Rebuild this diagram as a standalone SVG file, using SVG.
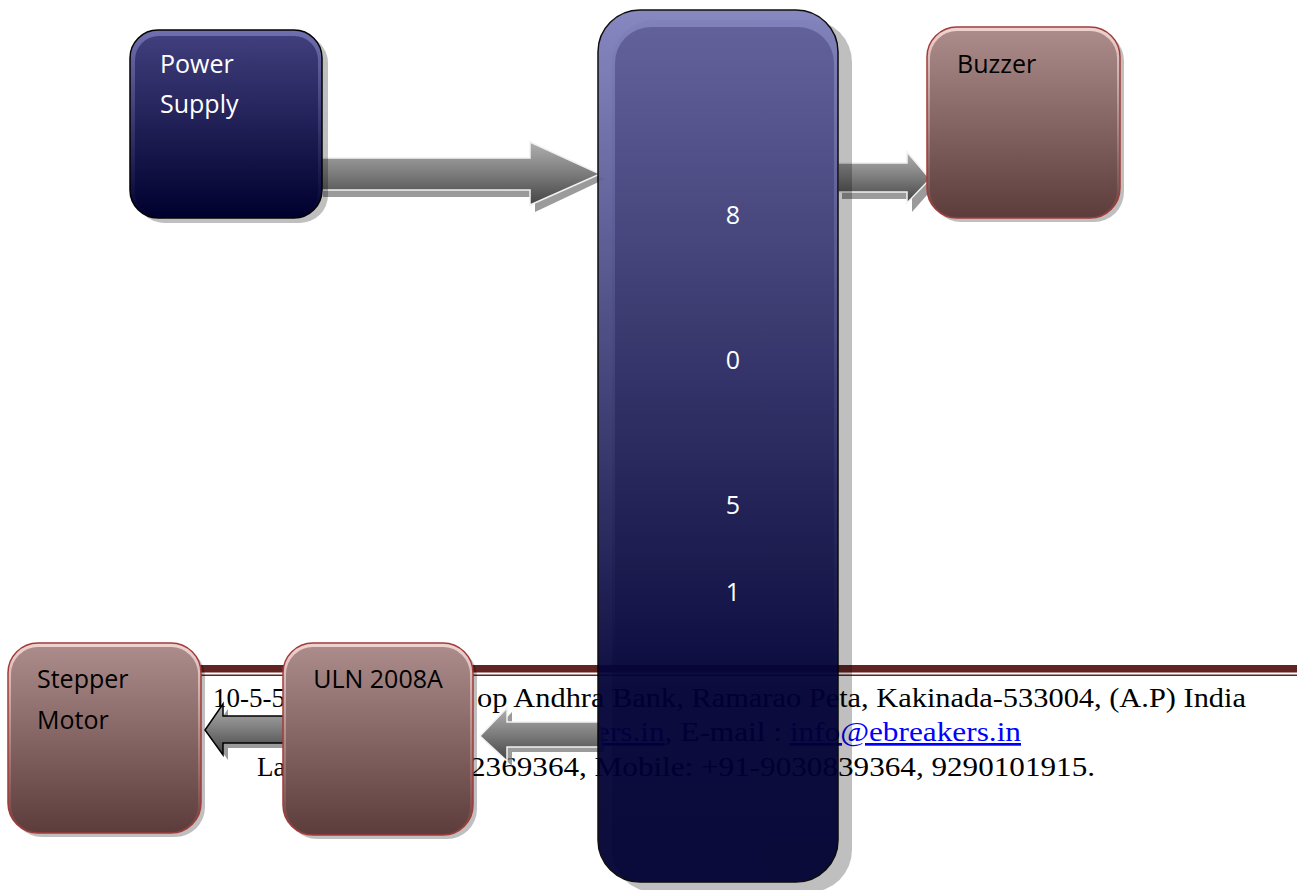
<svg xmlns="http://www.w3.org/2000/svg" width="1297" height="890" viewBox="0 0 1297 890">
  <defs>
    <style>
      .lbl { font-family: "Open Sans", "Liberation Sans", sans-serif; font-size: 25px; }
      .lbl-w { fill: #ffffff; }
      .lbl-k { fill: #000000; }
      .foot { font-family: "Liberation Serif", "DejaVu Serif", serif; font-size: 27px; fill: #000000; }
      .link { fill: #0000ff; text-decoration: underline; }
      .shadow { fill: #000000; opacity: 0.25; }
      .blue-edge { stroke: #000000; stroke-width: 1.5; }
      .red-edge { stroke: #a03c3a; stroke-width: 1.5; }
      .arrow { fill: url(#arrowFill); stroke: #f2f2f2; stroke-width: 1.5; stroke-linejoin: miter; }
      .arrow-dark { fill: url(#arrowFill); stroke: #000000; stroke-width: 1.5; stroke-linejoin: miter; }
      .arrow-shadow { fill: #7a7a7a; opacity: 0.75; }
    </style>
    <!-- glossy navy boxes -->
    <linearGradient id="navyRimSmall" x1="0" y1="0" x2="0" y2="1">
      <stop offset="0" stop-color="#7070b0"/>
      <stop offset="1" stop-color="#000030"/>
    </linearGradient>
    <linearGradient id="navyFillSmall" x1="0" y1="0" x2="0" y2="1">
      <stop offset="0" stop-color="#403e7c"/>
      <stop offset="1" stop-color="#00002e"/>
    </linearGradient>
    <linearGradient id="navyRimTall" x1="0" y1="0" x2="0" y2="1">
      <stop offset="0" stop-color="#8081bd"/>
      <stop offset="0.78" stop-color="#000036"/>
      <stop offset="1" stop-color="#000032"/>
    </linearGradient>
    <linearGradient id="navyFillTall" x1="0" y1="0" x2="0" y2="1">
      <stop offset="0" stop-color="#5e5c98"/>
      <stop offset="0.78" stop-color="#000036"/>
      <stop offset="1" stop-color="#000032"/>
    </linearGradient>
    <!-- glossy maroon boxes -->
    <linearGradient id="maroonRim" x1="0" y1="0" x2="0" y2="1">
      <stop offset="0" stop-color="#f0d4d2"/>
      <stop offset="1" stop-color="#6a3f3d"/>
    </linearGradient>
    <linearGradient id="maroonFill" x1="0" y1="0" x2="0" y2="1">
      <stop offset="0" stop-color="#ac8c8a"/>
      <stop offset="1" stop-color="#5d3d3b"/>
    </linearGradient>
    <!-- block arrows -->
    <linearGradient id="arrowFill" x1="0" y1="0" x2="0" y2="1">
      <stop offset="0" stop-color="#b0b0b0"/>
      <stop offset="0.5" stop-color="#7c7c7c"/>
      <stop offset="1" stop-color="#444444"/>
    </linearGradient>
  </defs>

  <rect width="1297" height="890" fill="#ffffff"/>

  <!-- page footer: double rule and address lines -->
  <g id="footer">
    <rect x="190" y="665" width="1107" height="7.5" fill="#622423"/>
    <rect x="190" y="674.5" width="1107" height="1.5" fill="#622423"/>
    <text class="foot" x="213" y="707">10-5-5</text>
    <text class="foot" x="477" y="707" textLength="769" lengthAdjust="spacingAndGlyphs">op Andhra Bank, Ramarao Peta, Kakinada-533004, (A.P) India</text>
    <text class="foot" x="596" y="741" textLength="425" lengthAdjust="spacingAndGlyphs"><tspan class="link">ers.in</tspan>, E-mail : <tspan class="link">info@ebreakers.in</tspan></text>
    <text class="foot" x="257" y="776">La</text>
    <text class="foot" x="470" y="776" textLength="625" lengthAdjust="spacingAndGlyphs">2369364, Mobile: +91-9030839364, 9290101915.</text>
  </g>

  <!-- block arrows between the units -->
  <g id="connectors">
    <!-- power supply to 8051 -->
    <polygon class="arrow-shadow" points="323,163 535,163 535,147 605,179 535,212 535,197 323,197"/>
    <polygon class="arrow" points="318,158 530,158 530,142 600,174 530,205 530,190 318,190"/>
    <!-- 8051 to buzzer -->
    <polygon class="arrow-shadow" points="842,170 912,170 912,159 935,186 912,212 912,199 842,199"/>
    <polygon class="arrow" points="838,163 907,163 907,152 930,179 907,203 907,192 838,192"/>
    <!-- 8051 to ULN 2008A -->
    <polygon class="arrow-shadow" points="604,727 512,727 512,712 485,741 512,766 512,752 604,752"/>
    <polygon class="arrow" points="600,722 507,722 507,708 480,736 507,761 507,747 600,747"/>
    <!-- ULN 2008A to stepper motor -->
    <polygon class="arrow-shadow" points="295,721 228,721 228,709 210,735 228,760 228,748 295,748"/>
    <polygon class="arrow-dark" points="290,716 223,716 223,704 205,730 223,755 223,743 290,743"/>
  </g>

  <g id="power-supply">
    <rect class="shadow" x="136" y="35" width="192" height="188" rx="28"/>
    <rect class="blue-edge" x="130" y="30" width="192" height="188" rx="28" fill="url(#navyRimSmall)"/>
    <rect x="135" y="36" width="183" height="181" rx="24" fill="url(#navyFillSmall)"/>
    <text class="lbl lbl-w" x="160" y="73">Power</text>
    <text class="lbl lbl-w" x="160" y="113">Supply</text>
  </g>

  <g id="mcu-8051">
    <rect class="shadow" x="612" y="20" width="240" height="872" rx="42"/>
    <g opacity="0.94">
      <rect class="blue-edge" x="598" y="10" width="240" height="872" rx="42" fill="url(#navyRimTall)"/>
      <rect x="615" y="27" width="219" height="854" rx="36" fill="url(#navyFillTall)"/>
    </g>
    <text class="lbl lbl-w" x="733" y="224" text-anchor="middle">8</text>
    <text class="lbl lbl-w" x="733" y="369" text-anchor="middle">0</text>
    <text class="lbl lbl-w" x="733" y="514" text-anchor="middle">5</text>
    <text class="lbl lbl-w" x="733" y="601" text-anchor="middle">1</text>
  </g>

  <g id="buzzer">
    <rect class="shadow" x="931" y="31" width="193" height="191" rx="30"/>
    <rect class="red-edge" x="927" y="27" width="193" height="191" rx="30" fill="url(#maroonRim)"/>
    <rect x="930" y="31" width="187" height="186" rx="27" fill="url(#maroonFill)"/>
    <text class="lbl lbl-k" x="957" y="73">Buzzer</text>
  </g>

  <g id="uln2008a">
    <rect class="shadow" x="287" y="647" width="190" height="192" rx="30"/>
    <rect class="red-edge" x="283" y="643" width="190" height="192" rx="30" fill="url(#maroonRim)"/>
    <rect x="286" y="647" width="184" height="187" rx="27" fill="url(#maroonFill)"/>
    <text class="lbl lbl-k" x="378" y="688" text-anchor="middle">ULN 2008A</text>
  </g>

  <g id="stepper-motor">
    <rect class="shadow" x="12" y="647" width="193" height="190" rx="30"/>
    <rect class="red-edge" x="8" y="643" width="193" height="190" rx="30" fill="url(#maroonRim)"/>
    <rect x="11" y="647" width="187" height="185" rx="27" fill="url(#maroonFill)"/>
    <text class="lbl lbl-k" x="37" y="688">Stepper</text>
    <text class="lbl lbl-k" x="37" y="729">Motor</text>
  </g>
</svg>
